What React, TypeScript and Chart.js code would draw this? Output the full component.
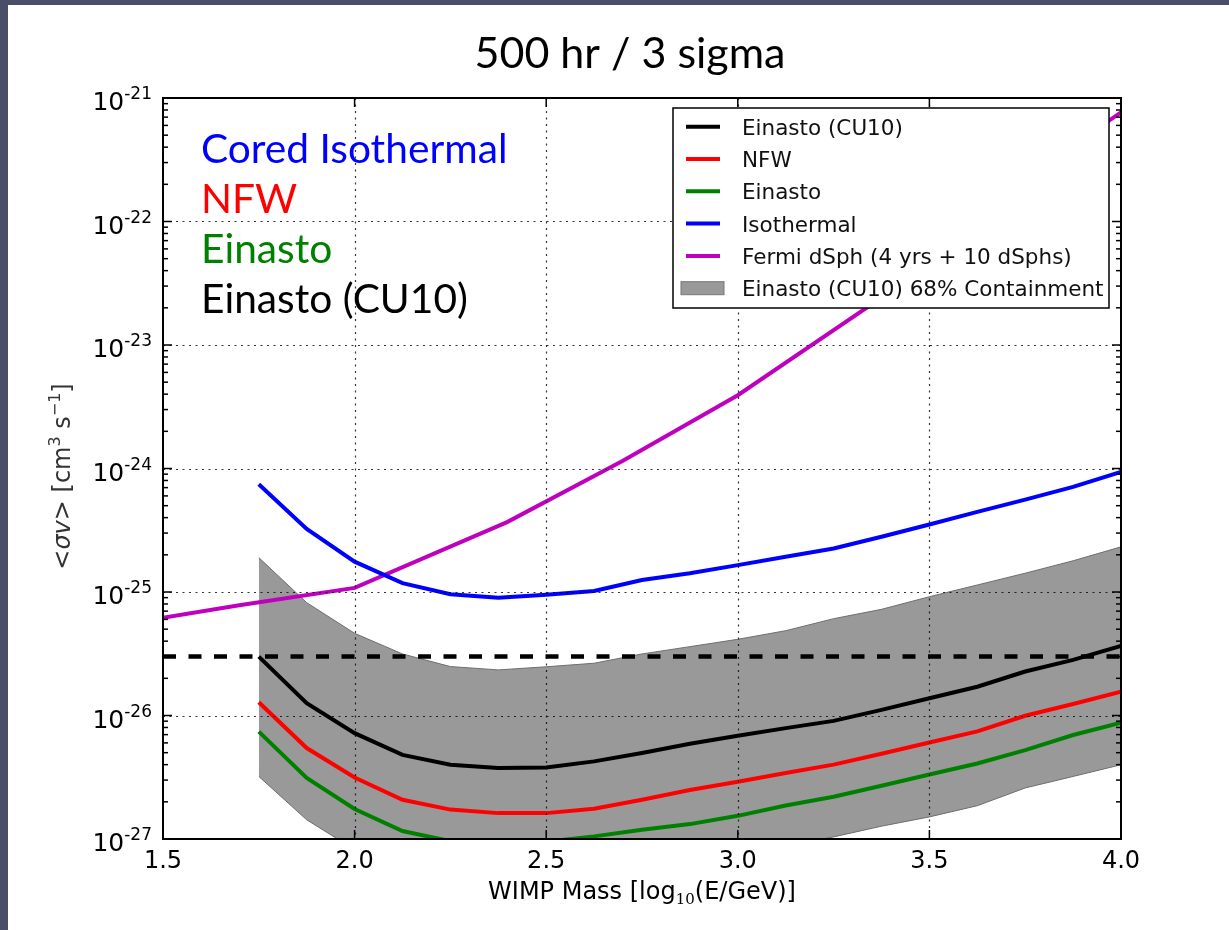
import React, { useEffect, useRef } from 'react';
import { Chart, registerables } from 'chart.js';

Chart.register(...registerables);

// ---------------- data ----------------
const massGrid = [1.75, 1.875, 2.0, 2.125, 2.25, 2.375, 2.5, 2.625, 2.75, 2.875, 3.0, 3.125, 3.25, 3.375, 3.5, 3.625, 3.75, 3.875, 4.0];
const einastoCU10 = [3.0e-26, 1.26e-26, 7.2e-27, 4.8e-27, 4.0e-27, 3.76e-27, 3.8e-27, 4.25e-27, 4.97e-27, 5.9e-27, 6.85e-27, 7.9e-27, 9.05e-27, 1.11e-26, 1.38e-26, 1.71e-26, 2.27e-26, 2.82e-26, 3.66e-26];
const nfw = [1.28e-26, 5.45e-27, 3.15e-27, 2.08e-27, 1.73e-27, 1.62e-27, 1.62e-27, 1.76e-27, 2.08e-27, 2.49e-27, 2.91e-27, 3.42e-27, 4.0e-27, 4.9e-27, 6.05e-27, 7.43e-27, 9.95e-27, 1.24e-26, 1.56e-26];
const einasto = [7.4e-27, 3.12e-27, 1.75e-27, 1.16e-27, 9.6e-28, 9.1e-28, 9.5e-28, 1.05e-27, 1.19e-27, 1.32e-27, 1.54e-27, 1.87e-27, 2.2e-27, 2.7e-27, 3.33e-27, 4.09e-27, 5.25e-27, 6.95e-27, 8.75e-27];
const isothermal = [7.46e-25, 3.24e-25, 1.76e-25, 1.18e-25, 9.6e-26, 9.0e-26, 9.5e-26, 1.02e-25, 1.25e-25, 1.42e-25, 1.65e-25, 1.93e-25, 2.25e-25, 2.8e-25, 3.52e-25, 4.45e-25, 5.6e-25, 7.1e-25, 9.4e-25];
const bandUpper = [1.9e-25, 8.2e-26, 4.63e-26, 3.15e-26, 2.49e-26, 2.34e-26, 2.48e-26, 2.65e-26, 3.15e-26, 3.61e-26, 4.14e-26, 4.86e-26, 6.08e-26, 7.24e-26, 9.16e-26, 1.14e-25, 1.42e-25, 1.79e-25, 2.32e-25];
const bandLower = [3.21e-27, 1.43e-27, 8.2e-28, 5.3e-28, 4.4e-28, 4.2e-28, 4.2e-28, 4.7e-28, 5.5e-28, 6.6e-28, 7.6e-28, 8.8e-28, 1.04e-27, 1.27e-27, 1.51e-27, 1.86e-27, 2.59e-27, 3.21e-27, 3.99e-27];
const fermiMass = [1.398, 1.699, 2.0, 2.398, 2.699, 3.0, 3.398, 3.699, 4.0];
const fermiDSph = [5.5e-26, 7.8e-26, 1.08e-25, 3.68e-25, 1.15e-24, 3.92e-24, 2.7e-23, 1.74e-22, 7.64e-22];
const thermalMass = [1.5, 4.0];
const thermalRelic = [3e-26, 3e-26];

const xTickValues = [1.5, 2.0, 2.5, 3.0, 3.5, 4.0];
const yDecades = [-27, -26, -25, -24, -23, -22, -21];

const titleText = '500 hr / 3 sigma';
const slideLabels = ['Cored Isothermal', 'NFW', 'Einasto', 'Einasto (CU10)'];
const legendLabels = ['Einasto (CU10)', 'NFW', 'Einasto', 'Isothermal', 'Fermi dSph (4 yrs + 10 dSphs)', 'Einasto (CU10) 68% Containment'];

// ---------------- styles ----------------
const SLIDE_COLORS = ['#0000ff', '#ff0000', '#008000', '#000000'];
const LEGEND_COLORS = ['#000000', '#ff0000', '#008000', '#0000ff', '#bf00bf'];
const DV = '"DejaVu Sans"';

type Piece = { t: string; f: string; dy?: number };

function drawPieces(ctx: CanvasRenderingContext2D, pieces: Piece[], x: number, y: number, align: 'left' | 'center' | 'right') {
  let total = 0;
  const widths = pieces.map((p) => {
    ctx.font = p.f;
    const w = ctx.measureText(p.t).width;
    total += w;
    return w;
  });
  let cx = align === 'left' ? x : align === 'center' ? x - total / 2 : x - total;
  ctx.textAlign = 'left';
  ctx.textBaseline = 'alphabetic';
  pieces.forEach((p, i) => {
    ctx.font = p.f;
    ctx.fillText(p.t, cx, y + (p.dy || 0));
    cx += widths[i];
  });
}

const decorPlugin = {
  id: 'decor',
  afterDatasetsDraw(chart: any) {
    const { ctx, chartArea: a, scales } = chart;
    const xs = scales.x;
    const ys = scales.y;
    ctx.save();

    // grid (dotted)
    ctx.strokeStyle = 'rgba(0,0,0,0.8)';
    ctx.lineWidth = 1.2;
    ctx.setLineDash([2, 4.5]);
    xTickValues.slice(1, -1).forEach((v) => {
      const px = Math.round(xs.getPixelForValue(v)) + 0.5;
      ctx.beginPath();
      ctx.moveTo(px, a.top);
      ctx.lineTo(px, a.bottom);
      ctx.stroke();
    });
    yDecades.slice(1, -1).forEach((e) => {
      const py = Math.round(ys.getPixelForValue(Math.pow(10, e))) + 0.5;
      ctx.beginPath();
      ctx.moveTo(a.left, py);
      ctx.lineTo(a.right, py);
      ctx.stroke();
    });
    ctx.setLineDash([]);

    // ticks
    ctx.strokeStyle = '#000';
    ctx.lineWidth = 1.5;
    const tick = (x1: number, y1: number, x2: number, y2: number) => {
      ctx.beginPath();
      ctx.moveTo(x1, y1);
      ctx.lineTo(x2, y2);
      ctx.stroke();
    };
    xTickValues.forEach((v) => {
      const px = xs.getPixelForValue(v);
      tick(px, a.bottom, px, a.bottom - 9);
      tick(px, a.top, px, a.top + 9);
    });
    yDecades.forEach((e, i) => {
      const py = ys.getPixelForValue(Math.pow(10, e));
      tick(a.left, py, a.left + 9, py);
      tick(a.right, py, a.right - 9, py);
      if (i < yDecades.length - 1) {
        for (let k = 2; k <= 9; k++) {
          const pm = ys.getPixelForValue(k * Math.pow(10, e));
          tick(a.left, pm, a.left + 5, pm);
          tick(a.right, pm, a.right - 5, pm);
        }
      }
    });

    // frame
    ctx.lineWidth = 2;
    ctx.strokeRect(a.left, a.top, a.right - a.left, a.bottom - a.top);

    // tick labels
    ctx.fillStyle = '#000';
    xTickValues.forEach((v) => {
      drawPieces(ctx, [{ t: v.toFixed(1), f: `24px ${DV}` }], xs.getPixelForValue(v), a.bottom + 28.5, 'center');
    });
    yDecades.forEach((e) => {
      const py = ys.getPixelForValue(Math.pow(10, e));
      drawPieces(ctx, [
        { t: '10', f: `25px ${DV}`, dy: 12 },
        { t: `${e}`, f: `17px ${DV}`, dy: 1 },
      ], a.left - 11, py, 'right');
    });

    // axis labels
    drawPieces(ctx, [
      { t: 'WIMP Mass [log', f: `24px ${DV}` },
      { t: '10', f: `15px "DejaVu Serif"`, dy: 5 },
      { t: '(E/GeV)]', f: `24px ${DV}` },
    ], (a.left + a.right) / 2, a.bottom + 60, 'center');

    ctx.save();
    ctx.translate(70, (a.top + a.bottom) / 2 + 8);
    ctx.rotate(-Math.PI / 2);
    ctx.fillStyle = '#333';
    drawPieces(ctx, [
      { t: '<', f: `24px ${DV}` },
      { t: 'σv', f: `italic 24px ${DV}` },
      { t: '>', f: `24px ${DV}` },
      { t: ' [cm', f: `24px ${DV}` },
      { t: '3', f: `16px ${DV}`, dy: -10 },
      { t: ' s', f: `24px ${DV}` },
      { t: '−1', f: `16px ${DV}`, dy: -10 },
      { t: ']', f: `24px ${DV}` },
    ], 0, 0, 'center');
    ctx.restore();

    // legend
    const bx = a.right - 12;
    const bw = 436;
    const left = bx - bw;
    const top = a.top + 10;
    const bh = 200;
    ctx.fillStyle = '#fff';
    ctx.fillRect(left, top, bw, bh);
    ctx.strokeStyle = '#000';
    ctx.lineWidth = 1.5;
    ctx.strokeRect(left, top, bw, bh);
    legendLabels.forEach((lab, i) => {
      const cy = top + 18.7 + i * 32.3;
      if (i < LEGEND_COLORS.length) {
        ctx.strokeStyle = LEGEND_COLORS[i];
        ctx.lineWidth = 4;
        ctx.beginPath();
        ctx.moveTo(left + 13, cy);
        ctx.lineTo(left + 47, cy);
        ctx.stroke();
      } else {
        ctx.fillStyle = '#999999';
        ctx.fillRect(left + 8, cy - 6.5, 43, 13);
        ctx.strokeStyle = '#777';
        ctx.lineWidth = 1;
        ctx.strokeRect(left + 8, cy - 6.5, 43, 13);
      }
      ctx.fillStyle = '#111';
      drawPieces(ctx, [{ t: lab, f: `21.5px ${DV}` }], left + 69, cy + 8, 'left');
    });

    // slide text
    ctx.fillStyle = '#000';
    drawPieces(ctx, [{ t: titleText, f: '43px Lato' }], 630, 68, 'center');
    slideLabels.forEach((t, i) => {
      ctx.fillStyle = SLIDE_COLORS[i];
      drawPieces(ctx, [{ t, f: '40.7px Lato' }], 201, 163 + i * 50, 'left');
    });

    ctx.restore();
  },
};

export default function App() {
  const ref = useRef<HTMLCanvasElement>(null);

  useEffect(() => {
    const canvas = ref.current!;
    const pts = (xsArr: number[], ysArr: number[]) => xsArr.map((x, i) => ({ x, y: ysArr[i] }));
    const line = (label: string, xsArr: number[], ysArr: number[], color: string, extra: any = {}) => ({
      label,
      data: pts(xsArr, ysArr),
      borderColor: color,
      backgroundColor: color,
      borderWidth: 4,
      pointRadius: 0,
      pointHoverRadius: 0,
      fill: false,
      tension: 0,
      ...extra,
    });

    const chart = new Chart(canvas, {
      type: 'line',
      data: {
        datasets: [
          line('Einasto (CU10)', massGrid, einastoCU10, '#000000'),
          line('NFW', massGrid, nfw, '#ff0000'),
          line('Einasto', massGrid, einasto, '#008000'),
          line('Isothermal', massGrid, isothermal, '#0000ff'),
          line('Fermi dSph (4 yrs + 10 dSphs)', fermiMass, fermiDSph, '#bf00bf'),
          line('Thermal relic', thermalMass, thermalRelic, '#000000', { borderDash: [13, 12.5], borderWidth: 4.5, borderCapStyle: 'butt' }),
          line('band lower', massGrid, bandLower, '#6e6e6e', { borderWidth: 1 }),
          line('Einasto (CU10) 68% Containment', massGrid, bandUpper, '#6e6e6e', { borderWidth: 1, fill: '-1', backgroundColor: '#999999' }),
        ],
      } as any,
      options: {
        animation: false,
        responsive: false,
        devicePixelRatio: 1,
        events: [],
        layout: { padding: { left: 0, right: 108, top: 98, bottom: 0 } },
        plugins: {
          legend: { display: false },
          tooltip: { enabled: false },
          title: { display: false },
          filler: { propagate: false, drawTime: 'beforeDatasetsDraw' },
        } as any,
        scales: {
          x: {
            type: 'linear',
            min: 1.5,
            max: 4.0,
            ticks: { display: false },
            grid: { display: false },
            border: { display: false },
            afterFit: (s: any) => { s.height = 91; },
          },
          y: {
            type: 'logarithmic',
            min: 1e-27,
            max: 1e-21,
            ticks: { display: false },
            grid: { display: false },
            border: { display: false },
            afterFit: (s: any) => { s.width = 163; },
          },
        } as any,
      },
      plugins: [decorPlugin],
    });
    return () => chart.destroy();
  }, []);

  return (
    <div style={{ position: 'absolute', left: 0, top: 0, width: 1229, height: 930, background: '#4a4f69', overflow: 'hidden' }}>
      <div style={{ position: 'absolute', left: 8, top: 5, width: 1221, height: 925, background: '#ffffff' }} />
      <canvas ref={ref} width={1229} height={930} style={{ position: 'absolute', left: 0, top: 0 }} />
    </div>
  );
}
